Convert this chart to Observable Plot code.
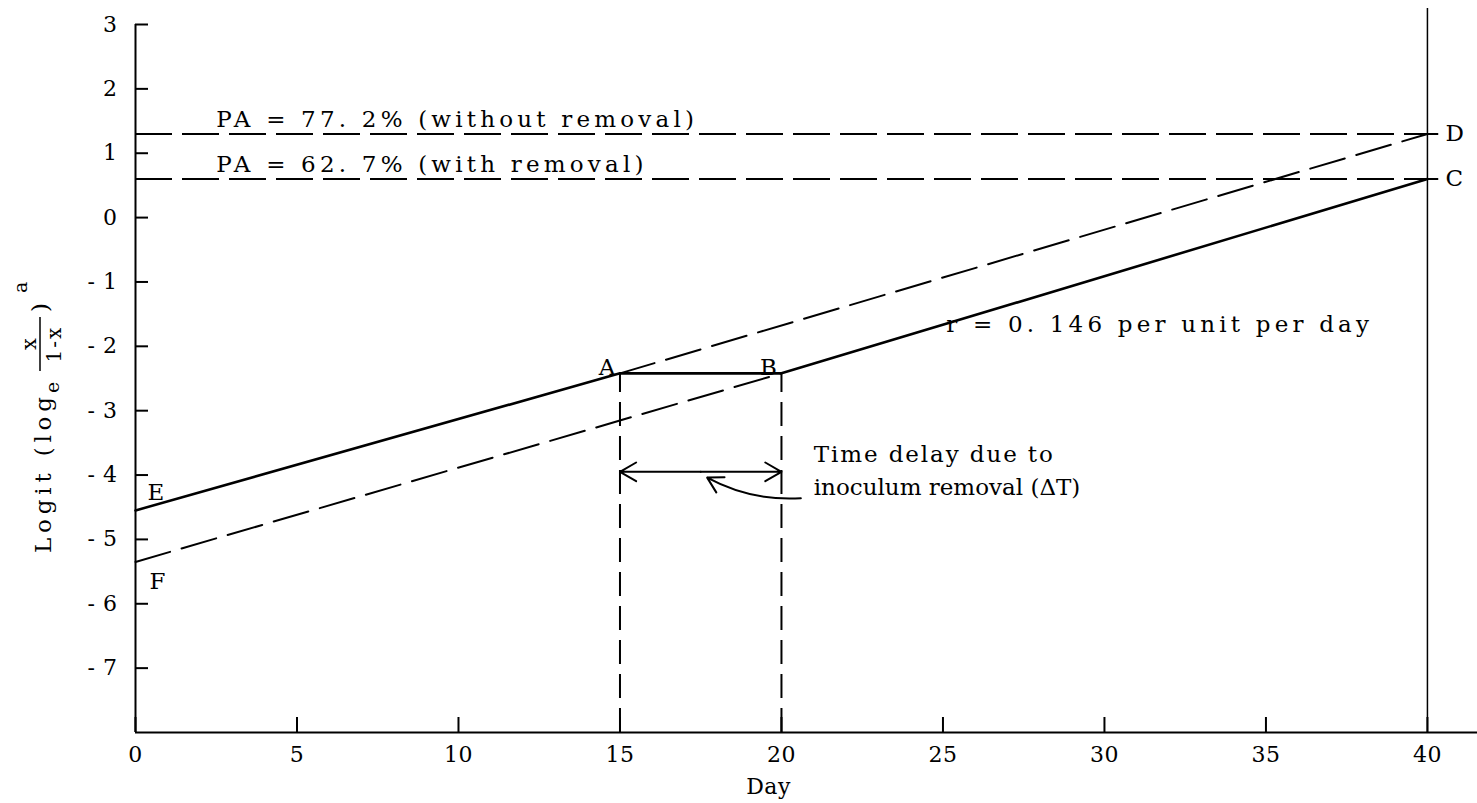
<!DOCTYPE html>
<html><head><meta charset="utf-8">
<script src="https://cdn.jsdelivr.net/npm/d3@7"></script>
<script src="https://cdn.jsdelivr.net/npm/@observablehq/plot@0.6"></script>
<style>
body{margin:0;background:#fff;}
.ann text{letter-spacing:4.2px}
.ann1 text{letter-spacing:1.9px}
.ann2 text{letter-spacing:0px}
.tk text{letter-spacing:0.5px}
</style></head><body><div id="chart"></div>
<script>
// ---- data ----
const dayTicks = [0, 5, 10, 15, 20, 25, 30, 35, 40];
const logitTicks = [-7, -6, -5, -4, -3, -2, -1, 0, 1, 2, 3];
const dayMax = 41.55;            // x axis runs past day 40 to the page edge
const logitMin = -8, logitMax = 3;

// solid curve E -> A -> B -> C (with removal, delayed)
const solidDay = [0, 15, 20, 40];
const solidLogit = [-4.55, -2.42, -2.42, 0.6];
// dashed A -> D (without removal)
const upperDay = [15, 40];
const upperLogit = [-2.42, 1.3];
// dashed F -> B
const lowerDay = [0, 20];
const lowerLogit = [-5.35, -2.42];

const paLabels = ["PA = 77. 2% (without removal)", "PA = 62. 7% (with removal)"];
const paLogit = [1.3, 0.6];

const pointNames = ["A", "B", "C", "D", "E", "F"];
const pointDay = [15, 20, 40, 40, 0, 0];
const pointLogit = [-2.42, -2.42, 0.6, 1.3, -4.55, -5.35];

const delayDays = [15, 20];
const delayLogit = -3.95;
const rateLabel = "r = 0. 146 per unit per day";
const delayLabel1 = "Time delay due to";
const delayLabel2 = "inoculum removal (\u0394T)";

// ---- build ----
const pts = (xs, ys) => xs.map((d, i) => ({day: d, logit: ys[i]}));
const solid = pts(solidDay, solidLogit);
const upper = pts(upperDay, upperLogit);
const lower = pts(lowerDay, lowerLogit);
const points = pointNames.map((n, i) => ({name: n, day: pointDay[i], logit: pointLogit[i]}));
const pick = (names) => points.filter(p => names.includes(p.name));
const midDelay = d3.mean(delayDays);

const fmtY = d => d < 0 ? "- " + (-d) : String(d);

const chart = Plot.plot({
  width: 1477, height: 803,
  marginLeft: 135, marginRight: 0, marginTop: 24, marginBottom: 71,
  style: {fontFamily: "DejaVu Serif", fontSize: "23px", color: "black", background: "white"},
  x: {domain: [0, dayMax]},
  y: {domain: [logitMin, logitMax]},
  marks: [
    Plot.ruleY([logitMin], {x1: 0, x2: dayMax, strokeWidth: 2}),
    Plot.ruleX([0], {y1: logitMin, y2: logitMax, strokeWidth: 2}),
    Plot.ruleX([40], {y1: logitMin, y2: logitMax + 0.25, strokeWidth: 1.5}),
    Plot.axisX({ticks: dayTicks, tickSize: -15, tickPadding: 29, label: null, strokeWidth: 2, fontSize: 22, className: "tk"}),
    Plot.axisY({ticks: logitTicks, tickSize: -13, tickPadding: 31, label: null, tickFormat: fmtY, strokeWidth: 2, fontSize: 22, className: "tk"}),
    // horizontal PA dashed lines
    Plot.ruleY(paLogit, {x1: 0, x2: 40.35, strokeWidth: 2, strokeDasharray: "37,10"}),
    // vertical dashed lines at A and B
    Plot.ruleX(delayDays, {y1: logitMin, y2: -2.42, strokeWidth: 2, strokeDasharray: "24,10"}),
    // lines
    Plot.line(solid, {x: "day", y: "logit", strokeWidth: 2.6}),
    Plot.line(upper, {x: "day", y: "logit", strokeWidth: 2, strokeDasharray: "36,12"}),
    Plot.line(lower, {x: "day", y: "logit", strokeWidth: 2, strokeDasharray: "36,12"}),
    // double arrow for delay
    Plot.arrow(delayDays, {x1: midDelay, y1: delayLogit, x2: d => d, y2: delayLogit, headLength: 14, strokeWidth: 2}),
    // curved pointer arrow
    Plot.arrow([{x1: 20.6, y1: -4.36, x2: 17.7, y2: -4.04}], {x1: "x1", y1: "y1", x2: "x2", y2: "y2", bend: 16, headLength: 13, strokeWidth: 2}),
    // texts
    Plot.text(paLabels, {x: 2.5, y: (d, i) => paLogit[i], textAnchor: "start", lineAnchor: "bottom", dy: -7, className: "ann"}),
    Plot.text([rateLabel], {x: 25.1, y: -1.67, textAnchor: "start", className: "ann"}),
    Plot.text([delayLabel1], {x: 21, y: -3.69, textAnchor: "start", className: "ann1"}),
    Plot.text([delayLabel2], {x: 21, y: -4.19, textAnchor: "start", className: "ann2"}),
    Plot.text(["Day"], {x: 19.6, frameAnchor: "bottom", dy: 61, fontSize: 22, className: "tk"}),
    Plot.text(pick(["A", "B"]), {x: "day", y: "logit", text: "name", lineAnchor: "bottom", dx: -13, dy: 2}),
    Plot.text(pick(["C", "D"]), {x: "day", y: "logit", text: "name", textAnchor: "start", dx: 18}),
    Plot.text(pick(["E"]), {x: "day", y: "logit", text: "name", textAnchor: "start", dx: 12, dy: -18}),
    Plot.text(pick(["F"]), {x: "day", y: "logit", text: "name", textAnchor: "start", dx: 14, dy: 20})
  ]
});
document.getElementById("chart").appendChild(chart);

// y axis title: Logit (log_e x/(1-x))^a, rotated
const g = d3.select(chart).append("g")
  .attr("transform", "translate(51,553) rotate(-90)")
  .attr("font-family", "DejaVu Serif").attr("fill", "black").attr("text-anchor", "start");
g.append("text").attr("x", 0).attr("y", 0).attr("font-size", 23)
  .attr("textLength", 156).attr("lengthAdjust", "spacing").text("Logit (log");
g.append("text").attr("x", 160).attr("y", 8).attr("font-size", 19).text("e");
g.append("text").attr("x", 209).attr("y", -15).attr("text-anchor", "middle").attr("font-size", 21).text("x");
g.append("line").attr("x1", 182).attr("x2", 236).attr("y1", -11).attr("y2", -11)
  .attr("stroke", "black").attr("stroke-width", 1.5);
g.append("text").attr("x", 209).attr("y", 10).attr("text-anchor", "middle").attr("font-size", 20)
  .style("letter-spacing", "2px").text("1-x");
g.append("text").attr("x", 241).attr("y", -3).attr("font-size", 23).text(")");
g.append("text").attr("x", 260).attr("y", -24).attr("font-size", 19).text("a");
</script></body></html>
